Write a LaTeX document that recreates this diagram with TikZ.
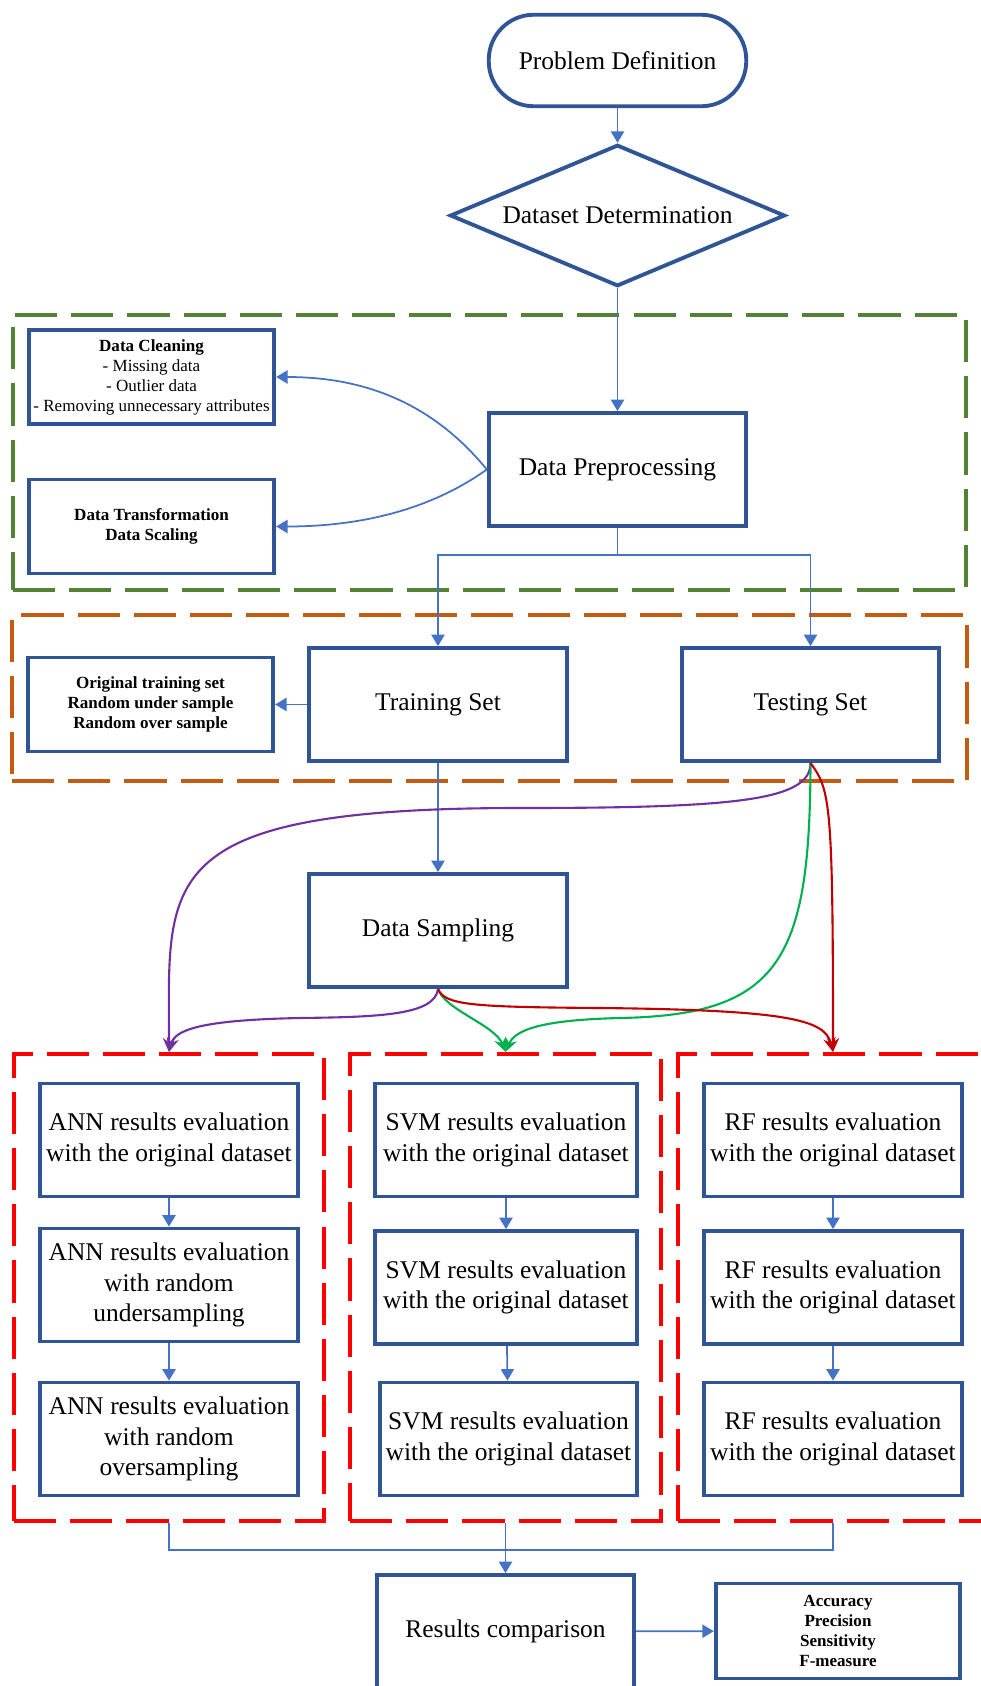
\documentclass[tikz,border=0pt]{standalone}
\usepackage{fontspec}
\setmainfont{Liberation Serif}
\usepackage{xcolor}
\usetikzlibrary{arrows.meta,shapes.geometric,calc}
\definecolor{boxblue}{HTML}{2F5597}
\definecolor{linkblue}{HTML}{4472C4}
\definecolor{prepgreen}{HTML}{548235}
\definecolor{splitorange}{HTML}{C55A11}
\definecolor{groupred}{HTML}{FF0000}
\definecolor{annpurple}{HTML}{7030A0}
\definecolor{svmgreen}{HTML}{00B050}
\definecolor{rfred}{HTML}{C00000}

\begin{document}
\begin{tikzpicture}[
  font=\fontsize{14.5}{17.2}\selectfont,
  bx/.style={draw=boxblue, line width=2.2pt, fill=white, align=center, inner sep=1pt,
            minimum width=#1, minimum height=22.6mm},
  bx/.default=51.5mm,
  sm/.style={draw=boxblue, line width=2.2pt, fill=white, align=center, inner sep=1pt,
            minimum width=49.1mm, minimum height=18.8mm, font=\fontsize{9.7}{11.4}\selectfont},
  smb/.style={sm, font=\fontsize{9.7}{11.4}\selectfont\bfseries},
  grp/.style={draw=#1, line width=2.3pt, dash pattern=on 24pt off 8pt, inner sep=0pt},
  arr/.style={-{Triangle[length=6.5pt, width=7.5pt]}, linkblue, line width=1pt},
  ln/.style={linkblue, line width=1pt},
  carr/.style={-{Stealth[length=8pt, width=7pt]}, #1, line width=1.2pt}]
\useasboundingbox (0,0) rectangle (19.6,-33.72);
\node[grp=prepgreen, minimum width=190.6mm, minimum height=55mm] (gpre) at (9.79,-9.05) {};
\node[grp=splitorange, minimum width=191mm, minimum height=33.2mm] (gset) at (9.79,-13.96) {};
\node[grp=groupred, minimum width=62mm, minimum height=93.4mm] (gann) at (3.38,-25.75) {};
\node[grp=groupred, minimum width=62.2mm, minimum height=93.4mm] (gsvm) at (10.11,-25.75) {};
\node[grp=groupred, minimum width=62mm, minimum height=93.4mm] (grf) at (16.66,-25.75) {};
\node[bx, minimum height=18.3mm, rounded corners=9mm] (pd) at (12.35,-1.21) {Problem Definition};
\node[draw=boxblue, line width=2.2pt, diamond, shape aspect=2.34, inner sep=1pt,
      minimum width=67mm, minimum height=28.3mm] (dd) at (12.35,-4.31) {Dataset Determination};
\node[bx] (dp) at (12.35,-9.39) {Data Preprocessing};
\node[sm] (dc) at (3.03,-7.54) {\textbf{Data Cleaning}\\- Missing data\\- Outlier data\\- Removing unnecessary attributes};
\node[smb] (dt) at (3.03,-10.53) {Data Transformation\\Data Scaling};
\node[bx] (ts) at (8.76,-14.09) {Training Set};
\node[bx] (te) at (16.21,-14.09) {Testing Set};
\node[smb] (ots) at (3.01,-14.09) {Original training set\\Random under sample\\Random over sample};
\node[bx] (ds) at (8.76,-18.61) {Data Sampling};
\node[bx] (ann1) at (3.38,-22.80) {ANN results evaluation\\with the original dataset};
\node[bx] (ann2) at (3.38,-25.70) {ANN results evaluation\\with random\\undersampling};
\node[bx] (ann3) at (3.38,-28.78) {ANN results evaluation\\with random\\oversampling};
\node[bx=52.5mm] (svm1) at (10.12,-22.80) {SVM results evaluation\\with the original dataset};
\node[bx=52.5mm] (svm2) at (10.12,-25.75) {SVM results evaluation\\with the original dataset};
\node[bx=51.5mm] (svm3) at (10.17,-28.78) {SVM results evaluation\\with the original dataset};
\node[bx] (rf1) at (16.66,-22.80) {RF results evaluation\\with the original dataset};
\node[bx] (rf2) at (16.66,-25.75) {RF results evaluation\\with the original dataset};
\node[bx] (rf3) at (16.66,-28.78) {RF results evaluation\\with the original dataset};
\node[bx] (rc) at (10.11,-32.63) {Results comparison};
\node[smb, minimum width=48.9mm, minimum height=19mm] (mt) at (16.76,-32.62) {Accuracy\\Precision\\Sensitivity\\F-measure};
\coordinate (sp) at (12.35,-11.1);
\coordinate (jn) at (10.11,-31.0);
\draw[arr] (pd) -- (dd);
\draw[arr] (dd) -- (dp);
\draw[arr] (dp.west) .. controls (8.6,-8.0) and (7.2,-7.54) .. (dc.east);
\draw[arr] (dp.west) .. controls (8.6,-10.2) and (7.2,-10.53) .. (dt.east);
\draw[ln] (dp.south) -- (sp);
\draw[arr] (sp) -| (ts.north);
\draw[arr] (sp) -| (te.north);
\draw[arr] (ts) -- (ots);
\draw[arr] (ts) -- (ds);
\foreach \col in {ann, svm, rf} {
  \draw[arr] (\col1) -- (\col2);
  \draw[arr] (\col2) -- (\col3);
}
\draw[carr=annpurple] (te.south) .. controls +(0,-0.74) and (14.8,-16.16) .. (10.4,-16.16)
  .. controls (3.0,-16.16) and (3.38,-17.6) .. (gann.north);
\draw[carr=svmgreen] (te.south) .. controls (16.2,-19.2) and (15.6,-20.3) .. (12.4,-20.36)
  .. controls (10.8,-20.4) and (10.3,-20.6) .. (gsvm.north);
\draw[carr=rfred] (te.south) .. controls (16.6,-15.8) and (16.66,-16.0) .. (grf.north);
\draw[carr=annpurple] (ds.south) .. controls (8.7,-20.3) and (7.6,-20.34) .. (6.0,-20.36)
  .. controls (4.0,-20.4) and (3.5,-20.6) .. (gann.north);
\draw[carr=svmgreen] (ds.south) .. controls (8.9,-20.2) and (9.9,-20.5) .. (gsvm.north);
\draw[carr=rfred] (ds.south) .. controls (8.9,-20.1) and (9.4,-20.14) .. (12.0,-20.16)
  .. controls (15.8,-20.2) and (16.5,-20.4) .. (grf.north);
\draw[ln] (gann.south) |- (jn) -| (grf.south);
\draw[arr] (gsvm.south) -- (rc.north);
\draw[arr] (rc) -- (mt);
\end{tikzpicture}
\end{document}
